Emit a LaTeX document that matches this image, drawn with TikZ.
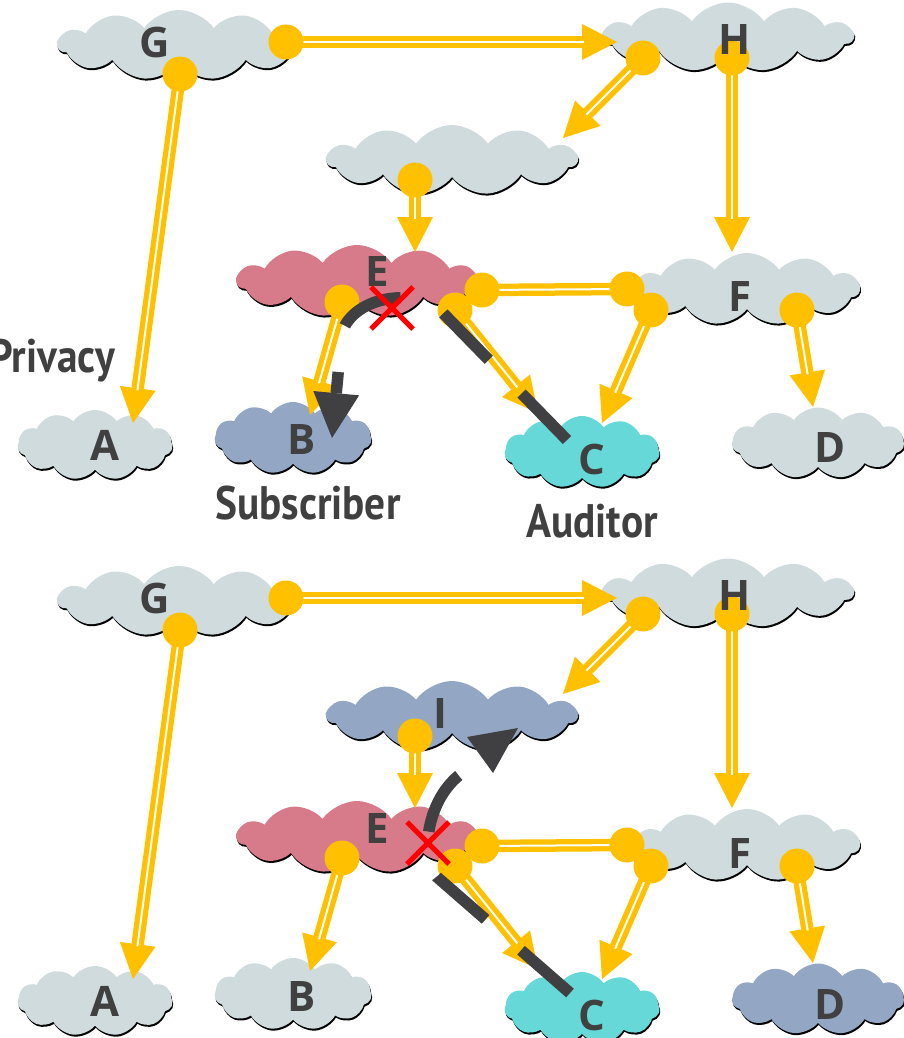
\documentclass[tikz,border=0pt]{standalone}
\usepackage{fontspec}
\setmainfont{Open Sans}
\newfontfamily\condfont[FakeStretch=0.88]{PT Sans}
\usetikzlibrary{shapes.symbols,shapes.misc,shadows,arrows.meta}
\definecolor{ylw}{HTML}{FFC000}
\definecolor{cgrey}{HTML}{CFDBDD}
\definecolor{cpink}{HTML}{D77A8A}
\definecolor{cblue}{HTML}{93A7C5}
\definecolor{ccyan}{HTML}{66D8D8}
\definecolor{dark}{HTML}{404042}
\definecolor{txt}{HTML}{404040}
\tikzset{
  cloudnode/.style={cloud, cloud puffs=11, cloud puff arc=110, cloud ignores aspect,
    fill=#1, draw=none, inner sep=0pt,
    drop shadow={shadow xshift=0.8pt, shadow yshift=-2pt, fill=black, opacity=1}},
  lbl/.style={text=txt, font=\fontsize{42}{42}\selectfont\bfseries, inner sep=0pt},
  caption/.style={text=txt, font=\condfont\bfseries\fontsize{47}{47}\selectfont, inner sep=0pt},
  dot/.style={circle, fill=ylw, minimum size=35pt, inner sep=0pt},
  yline/.style={draw=ylw, line width=12.5pt,
    postaction={draw=white, line width=2pt}},
  yarrow/.style={draw=ylw, line width=12.5pt,
    -{Triangle[length=35pt,width=36pt,line width=0pt]},
    postaction={draw=white, line width=2pt, -, shorten >=33pt}},
  darkpath/.style={draw=dark, line width=11.5pt, line cap=butt, dash pattern=on 65pt off 47pt},
  xmark/.style={cross out, draw=red, line width=5pt, minimum size=37pt, inner sep=0pt},
}
\newcommand{\drawpanel}[5]{%
\begin{scope}[yshift=#1, name prefix=#2-]
  % clouds
  \node[cloudnode=cgrey, minimum width=242pt, minimum height=70pt] (G) at (179,45) {};
  \node[cloudnode=cgrey, minimum width=250pt, minimum height=69pt] (H) at (728,37) {};
  \node[cloudnode=#3, minimum width=250pt, minimum height=70pt] (U) at (452,160) {};
  \node[cloudnode=cpink, minimum width=240pt, minimum height=72pt] (E) at (357,281) {};
  \node[cloudnode=cgrey, minimum width=225pt, minimum height=72pt] (F) at (747,289) {};
  \node[cloudnode=cgrey, minimum width=155pt, minimum height=70pt] (A) at (95,445) {};
  \node[cloudnode=#4, minimum width=157pt, minimum height=72pt] (B) at (293,438) {};
  \node[cloudnode=ccyan, minimum width=155pt, minimum height=72pt] (C) at (582,452) {};
  \node[cloudnode=#5, minimum width=172pt, minimum height=71pt] (D) at (818,443) {};
  % connector end points
  \coordinate (GHs) at (286,42);  \coordinate (GHe) at (617,42);
  \coordinate (GAs) at (180,74);  \coordinate (GAe) at (133,423);
  \coordinate (HUs) at (643,58);  \coordinate (HUe) at (563,138);
  \coordinate (HFs) at (732,58);  \coordinate (HFe) at (732,252);
  \coordinate (UEs) at (415,180); \coordinate (UEe) at (415,252);
  \coordinate (EBs) at (342,302); \coordinate (EBe) at (310,415);
  \coordinate (EFs) at (482,290); \coordinate (EFe) at (627,289);
  \coordinate (ECs) at (455,310); \coordinate (ECe) at (538,413);
  \coordinate (FCs) at (651,310); \coordinate (FCe) at (602,423);
  \coordinate (FDs) at (797,310); \coordinate (FDe) at (813,407);
  % yellow connectors
  \draw[yarrow] (GHs) -- (GHe);
  \draw[yarrow] (GAs) -- (GAe);
  \draw[yarrow] (HUs) -- (HUe);
  \draw[yarrow] (HFs) -- (HFe);
  \draw[yarrow] (UEs) -- (UEe);
  \draw[yarrow] (EBs) -- (EBe);
  \draw[yline] (EFs) -- (EFe);
  \draw[yarrow] (ECs) -- (ECe);
  \draw[yarrow] (FCs) -- (FCe);
  \draw[yarrow] (FDs) -- (FDe);
  % dots
  \node[dot] (GHd) at (GHs) {};
  \node[dot] (GAd) at (GAs) {};
  \node[dot] (HUd) at (HUs) {};
  \node[dot] (HFd) at (HFs) {};
  \node[dot] (UEd) at (UEs) {};
  \node[dot] (EBd) at (EBs) {};
  \node[dot] (ECd) at (ECs) {};
  \node[dot] (EFd) at (EFs) {};
  \node[dot] (FEd) at (EFe) {};
  \node[dot] (FCd) at (FCs) {};
  \node[dot] (FDd) at (FDs) {};
  % labels
  \node[lbl] (Gl) at (155,42) {G};
  \node[lbl] (Hl) at (735,40) {H};
  \node[lbl] (El) at (377,272) {E};
  \node[lbl] (Fl) at (740,297) {F};
  \node[lbl] (Al) at (105,445) {A};
  \node[lbl] (Bl) at (302,440) {B};
  \node[lbl] (Cl) at (592,459) {C};
  \node[lbl] (Dl) at (830,448) {D};
\end{scope}}

\begin{document}
\begin{tikzpicture}[x=1pt,y=-1pt]
\useasboundingbox (0,0) rectangle (903,1038);
\drawpanel{0pt}{t}{cgrey}{cblue}{cgrey}
\drawpanel{-556pt}{b}{cblue}{cgrey}{cblue}
\node[lbl] (Il) at (440,713) {I};
% captions
\node[caption, anchor=base east] (privacy) at (115,372) {Privacy};
\node[caption, anchor=base] (subscriber) at (308,519) {Subscriber};
\node[caption, anchor=base] (auditor) at (592,537) {Auditor};
% top dark path
\coordinate (tp1) at (567,440);
\coordinate (tp2) at (443,313);
\coordinate (tp3) at (342,332);
\coordinate (tp4) at (332,438);
\draw[darkpath, -{Triangle[length=45pt,width=46pt,line width=0pt]}]
  (tp1) -- (tp2) .. controls (418,287) and (355,295) .. (tp3) -- (tp4);
\node[xmark] (tX) at (392,308) {};
% bottom dark path
\coordinate (bp1) at (570,993);
\coordinate (bp2) at (437,877);
\coordinate (bp3) at (462,773);
\draw[darkpath] (bp1) -- (bp2) .. controls (420,860) and (425,800) .. (bp3);
\coordinate (bt1) at (467,737);
\coordinate (bt2) at (518,728);
\coordinate (bt3) at (493,773);
\fill[dark] (bt1) -- (bt2) -- (bt3) -- cycle;
\node[xmark] (bX) at (428,843) {};
\end{tikzpicture}
\end{document}
